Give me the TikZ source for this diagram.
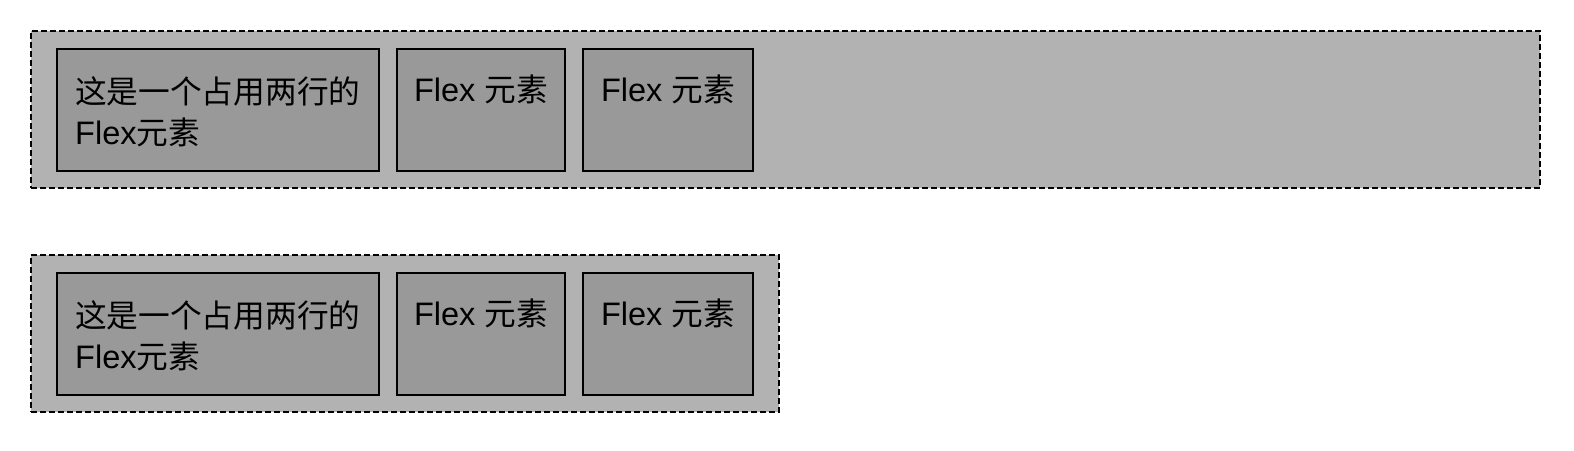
\documentclass[tikz,border=0pt]{standalone}
\usepackage{fontspec}
\setmainfont{Liberation Sans}
\newfontfamily\cjk[Scale=0.975]{Noto Sans CJK SC}
\definecolor{contfill}{RGB}{178,178,178}
\definecolor{itemfill}{RGB}{153,153,153}
\begin{document}
\begin{tikzpicture}[x=1pt,y=-1pt,
  container/.style={draw=black, line width=2.2pt, dash pattern=on 6pt off 3pt, fill=contfill, inner sep=0pt, minimum height=157pt},
  item/.style={draw=black, line width=2.2pt, fill=itemfill, inner sep=0pt, minimum height=122pt},
  label/.style={inner sep=0pt, font=\fontsize{32.5}{41}\selectfont, text=black}]
\useasboundingbox (0,0) rectangle (1574,450);
% first container
\node[container, minimum width=1509pt] (c1) at (785.5,109.5) {};
\node[item, minimum width=322pt] (a1) at (218,110) {};
\node[item, minimum width=168pt] (b1) at (481,110) {};
\node[item, minimum width=170pt] (d1) at (668,110) {};
\node[label, anchor=base west, align=left] (ta1) at (75,144) {{\cjk 这是一个占用两行的}\\Flex{\cjk 元素}};
\node[label, anchor=base] (tb1) at (481,101) {Flex {\cjk 元素}};
\node[label, anchor=base] (td1) at (668,101) {Flex {\cjk 元素}};
% second container
\node[container, minimum width=748pt] (c2) at (405,333.5) {};
\node[item, minimum width=322pt] (a2) at (218,334) {};
\node[item, minimum width=168pt] (b2) at (481,334) {};
\node[item, minimum width=170pt] (d2) at (668,334) {};
\node[label, anchor=base west, align=left] (ta2) at (75,368) {{\cjk 这是一个占用两行的}\\Flex{\cjk 元素}};
\node[label, anchor=base] (tb2) at (481,325) {Flex {\cjk 元素}};
\node[label, anchor=base] (td2) at (668,325) {Flex {\cjk 元素}};
\end{tikzpicture}
\end{document}
